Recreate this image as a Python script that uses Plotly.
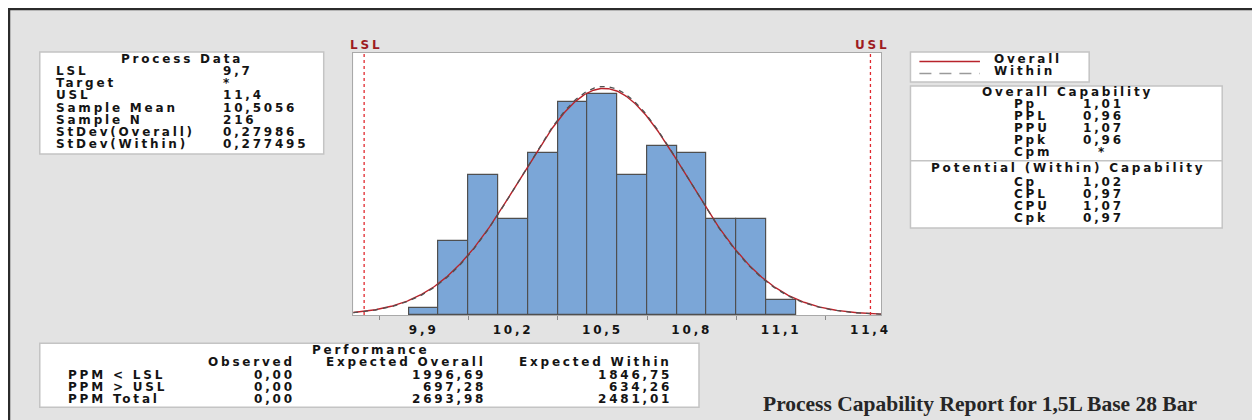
import numpy as np
import plotly.graph_objects as go

# page has an 8px body margin: the figure starts at page pixel (8, 8)
OFF = 8
W, H = 1260 - OFF, 420 - OFF

# ---------------- data ----------------
bin_centers = [9.9, 10.0, 10.1, 10.2, 10.3, 10.4, 10.5, 10.6, 10.7, 10.8, 10.9, 11.0, 11.1]
bin_counts = [1, 10, 19, 13, 22, 29, 30, 19, 23, 22, 13, 13, 2]
bin_width = 0.1

LSL = 9.7
USL = 11.4
sample_mean = 10.5056
sample_n = 216
stdev_overall = 0.27986
stdev_within = 0.277495

tick_vals = [9.9, 10.2, 10.5, 10.8, 11.1, 11.4]
tick_labels = ["9,9", "10,2", "10,5", "10,8", "11,1", "11,4"]
minor_tick_vals = [9.75, 10.05, 10.35, 10.65, 10.95, 11.25]

process_labels = ["LSL", "Target", "USL", "Sample Mean", "Sample N", "StDev(Overall)", "StDev(Within)"]
process_values = ["9,7", "*", "11,4", "10,5056", "216", "0,27986", "0,277495"]

overall_cap_labels = ["Pp", "PPL", "PPU", "Ppk", "Cpm"]
overall_cap_values = ["1,01", "0,96", "1,07", "0,96", "*"]
within_cap_labels = ["Cp", "CPL", "CPU", "Cpk"]
within_cap_values = ["1,02", "0,97", "1,07", "0,97"]

perf_columns = ["Observed", "Expected Overall", "Expected Within"]
perf_rows = ["PPM &lt; LSL", "PPM &gt; USL", "PPM Total"]
perf_observed = ["0,00", "0,00", "0,00"]
perf_expected_overall = ["1996,69", "697,28", "2693,98"]
perf_expected_within = ["1846,75", "634,26", "2481,01"]

legend_labels = ["Overall", "Within"]
title_text = "Process Capability Report for 1,5L Base 28 Bar"

# ---------------- helpers (page pixels -> paper) ----------------
def X(px):
    return (px - OFF) / W

def Y(py):
    return 1 - (py - OFF) / H

SP = 2.8
TXT = "#141414"
annotations = []
shapes = []

def ann(x, y, text, anchor="left", size=12, color=TXT, family="DejaVu Sans",
        weight="bold", spacing=SP):
    if spacing:
        text = f'<span style="letter-spacing:{spacing}px">{text}</span>'
        if anchor == "right":
            x += spacing
        elif anchor == "center":
            x += spacing / 2
    annotations.append(dict(
        x=X(x), y=Y(y), xref="paper", yref="paper", text=text, showarrow=False,
        xanchor=anchor, yanchor="middle",
        font=dict(family=family, size=size, color=color, weight=weight),
    ))

def box(x0, y0, x1, y1, fill="white", line="#c4c4c4", lw=1.5):
    shapes.append(dict(type="rect", xref="paper", yref="paper",
                       x0=X(x0), x1=X(x1), y0=Y(y1), y1=Y(y0),
                       fillcolor=fill, line=dict(color=line, width=lw), layer="below"))

def pline(x0, y0, x1, y1, color, width=1.5, dash="solid"):
    shapes.append(dict(type="line", xref="paper", yref="paper",
                       x0=X(x0), x1=X(x1), y0=Y(y0), y1=Y(y1),
                       line=dict(color=color, width=width, dash=dash)))

# ---------------- frame ----------------
pline(8, 9, 1262, 9, "#2b2b2b", width=2.5)
pline(9, 8, 9, 422, "#2b2b2b", width=2.5)

# ---------------- histogram & curves ----------------
x_lo, x_hi = 9.6633, 11.4367
y_hi = 35.6

xs = np.linspace(x_lo, x_hi, 500)
scale = sample_n * bin_width
y_over = scale * np.exp(-0.5 * ((xs - sample_mean) / stdev_overall) ** 2) / (stdev_overall * np.sqrt(2 * np.pi))
y_with = scale * np.exp(-0.5 * ((xs - sample_mean) / stdev_within) ** 2) / (stdev_within * np.sqrt(2 * np.pi))

fig = go.Figure()
fig.add_trace(go.Bar(
    x=bin_centers, y=bin_counts, width=bin_width,
    marker=dict(color="#7ba6d7", line=dict(color="#4f4f4f", width=1.2)),
    hoverinfo="skip",
))
fig.add_trace(go.Scatter(x=xs, y=y_over, mode="lines",
                         line=dict(color="#b8232b", width=1.4), hoverinfo="skip"))
fig.add_trace(go.Scatter(x=xs, y=y_with, mode="lines",
                         line=dict(color="#505050", width=1.3, dash="5px,5px"), hoverinfo="skip"))

# spec limits
for v, lab in [(LSL, "LSL"), (USL, "USL")]:
    shapes.append(dict(type="line", xref="x", yref="y domain", x0=v, x1=v, y0=0, y1=1,
                       line=dict(color="#e0282e", width=1.3, dash="dot")))
    annotations.append(dict(
        x=v, y=Y(45), xref="x", yref="paper",
        text=f'<span style="letter-spacing:{SP}px">{lab}</span>',
        showarrow=False, xanchor="center", yanchor="middle", xshift=SP / 2,
        font=dict(family="DejaVu Sans", size=12, color="#9e1b1f", weight="bold"),
    ))

# ---------------- Process Data box ----------------
box(40, 52, 326, 154)
ann(182, 59, "Process Data", anchor="center")
for i, (lab, val) in enumerate(zip(process_labels, process_values)):
    yy = 71 + i * 12.17
    ann(54, yy, lab)
    ann(223, yy, val)

# ---------------- Legend box ----------------
box(917, 52, 1097, 82)
pline(926, 61.5, 987, 61.5, "#b8232b", width=1.4)
pline(926, 73.5, 987, 73.5, "#9a9a9a", width=1.6, dash="12px,8px")
ann(999, 59, legend_labels[0])
ann(999, 71.5, legend_labels[1])

# ---------------- Capability box ----------------
box(917, 86, 1231, 228)
pline(917, 160.7, 1231, 160.7, "#c4c4c4", width=1.5)
ann(1074, 92, "Overall Capability", anchor="center")
for i, (lab, val) in enumerate(zip(overall_cap_labels, overall_cap_values)):
    yy = 104 + i * 12.0
    ann(1019, yy, lab)
    if val == "*":
        ann(1109, yy, val, anchor="center")
    else:
        ann(1089, yy, val)
ann(1074, 167.7, "Potential (Within) Capability", anchor="center")
for i, (lab, val) in enumerate(zip(within_cap_labels, within_cap_values)):
    yy = 182.4 + i * 11.95
    ann(1019, yy, lab)
    ann(1089, yy, val)

# ---------------- Performance box ----------------
box(40, 343.3, 704, 407.3)
ann(372, 350, "Performance", anchor="center")
col_right = [296.7, 488.3, 676]
for c, xr in zip(perf_columns, col_right):
    ann(xr, 362.3, c, anchor="right")
row_y = [374.8, 386.7, 398.5]
for r, yy in enumerate(row_y):
    ann(66, yy, perf_rows[r])
    ann(col_right[0], yy, perf_observed[r], anchor="right")
    ann(col_right[1], yy, perf_expected_overall[r], anchor="right")
    ann(col_right[2], yy, perf_expected_within[r], anchor="right")

# ---------------- Title ----------------
ann(766.7, 403.5, title_text, size=21.5, color="#262626",
    family="Liberation Serif", weight="bold", spacing=0)

fig.update_layout(
    width=W, height=H,
    margin=dict(l=0, r=0, t=0, b=0),
    paper_bgcolor="#e3e3e3",
    plot_bgcolor="white",
    showlegend=False,
    hovermode=False,
    bargap=0,
    shapes=shapes,
    annotations=annotations,
    xaxis=dict(
        domain=[X(355.7), X(887.7)], range=[x_lo, x_hi],
        tickmode="array", tickvals=tick_vals,
        ticktext=[f'<span style="letter-spacing:{SP}px">{t}</span>' for t in tick_labels],
        ticks="", showgrid=False, zeroline=False, ticklabelstandoff=4,
        showline=True, mirror=True, linecolor="#a9a9a9", linewidth=1,
        tickfont=dict(family="DejaVu Sans", size=12, color=TXT, weight="bold"),
        minor=dict(tickmode="array", tickvals=minor_tick_vals, ticks="outside",
                   ticklen=4, tickwidth=1, tickcolor="#8a8a8a", showgrid=False),
    ),
    yaxis=dict(
        domain=[Y(315), Y(53)], range=[0, y_hi],
        showticklabels=False, ticks="", showgrid=False, zeroline=False,
        showline=True, mirror=True, linecolor="#a9a9a9", linewidth=1,
    ),
)

fig.write_html("out.html")
